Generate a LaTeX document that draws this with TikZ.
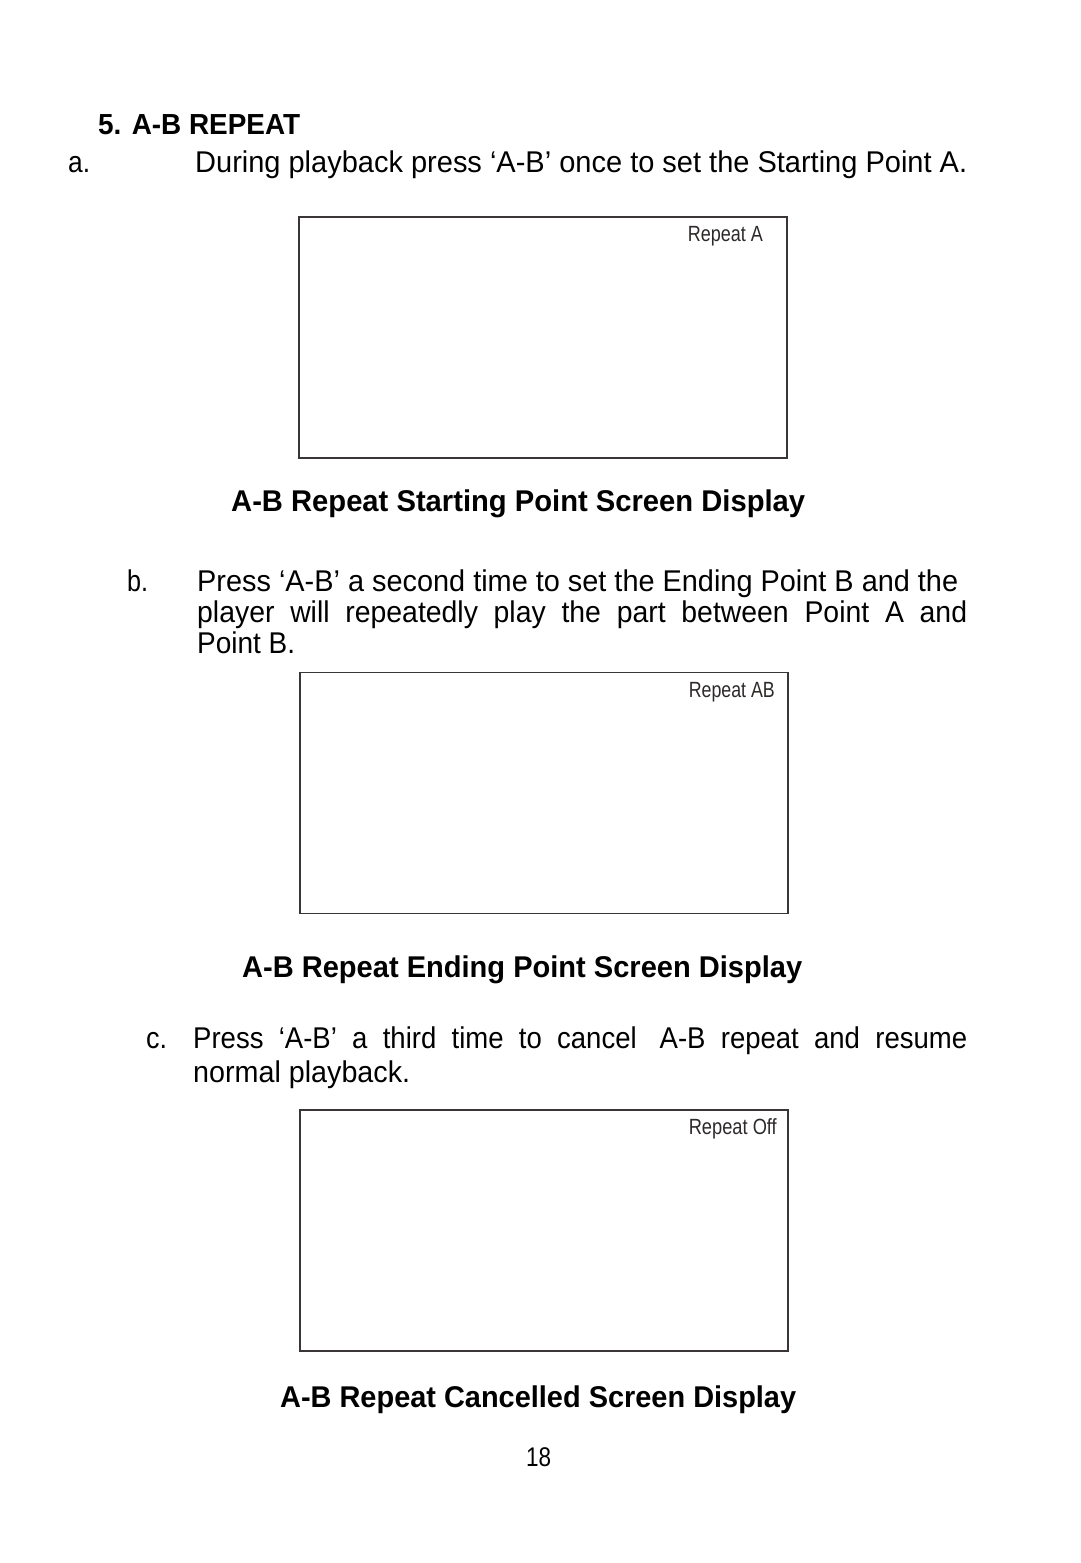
\documentclass[tikz,border=0pt]{standalone}
\usepackage{graphicx}
\usepackage{fontspec}
\setmainfont{Liberation Sans}
\newsavebox\fitbox
\newcommand\fitto[2]{\sbox\fitbox{#2}\pgfmathsetmacro\fitratio{(#1)/(\the\wd\fitbox)}\scalebox{\fitratio}[1]{\usebox\fitbox}}
\definecolor{framecol}{HTML}{3A3636}
\definecolor{labcol}{HTML}{2E2A2A}
\tikzset{
  body/.style={inner sep=0pt, anchor=base west, font=\fontsize{30}{34}\selectfont, text=black},
  bodyb/.style={inner sep=0pt, anchor=base west, font=\fontsize{29}{33}\selectfont\bfseries, text=black},
  caption/.style={inner sep=0pt, anchor=base west, font=\fontsize{30}{34}\selectfont\bfseries, text=black},
  screenlab/.style={inner sep=0pt, anchor=base east, font=\fontsize{22}{26}\selectfont, text=labcol},
  screen/.style={draw=framecol, line width=1.6pt, fill=white, minimum width=488pt, minimum height=241pt, inner sep=0pt},
  pagenum/.style={inner sep=0pt, anchor=base, font=\fontsize{27}{30}\selectfont, text=black}
}
\begin{document}
\begin{tikzpicture}[x=1pt,y=-1pt]
\fill[white] (0,0) rectangle (1080,1563);
\useasboundingbox (0,0) rectangle (1080,1563);

% heading
\node[bodyb] (head) at (98,134) {\fitto{202pt}{5. A-B REPEAT}};

% step a
\node[body] (amark) at (68,172) {\fitto{22pt}{a.}};
\node[body] (atext) at (195,172) {\fitto{772pt}{During playback press ‘A-B’ once to set the Starting Point A.}};

% screen 1
\node[screen] (scr1) at (543,337.5) {};
\node[screenlab] (lab1) at (763,241) {\fitto{75pt}{Repeat A}};
\node[caption] (cap1) at (231,511) {\fitto{574pt}{A-B Repeat Starting Point Screen Display}};

% step b
\node[body] (bmark) at (127,591) {\fitto{21pt}{b.}};
\node[body] (bl1) at (197,591) {\fitto{761pt}{Press ‘A-B’ a second time to set the Ending Point B and the}};
\node[body] (bl2) at (197,622) {\fitto{770pt}{player\ \ will\ \ repeatedly\ \ play\ \ the\ \ part\ \ between\ \ Point\ \ A\ \ and}};
\node[body] (bl3) at (197,653) {\fitto{98pt}{Point B.}};

% screen 2
\node[screen] (scr2) at (544,793) {};
\node[screenlab] (lab2) at (775,697) {\fitto{86pt}{Repeat AB}};
\node[caption] (cap2) at (242,977) {\fitto{560pt}{A-B Repeat Ending Point Screen Display}};

% step c
\node[body] (cmark) at (146,1048) {\fitto{21pt}{c.}};
\node[body] (cl1) at (193,1048) {\fitto{774pt}{Press\ \ ‘A-B’\ \ a\ \ third\ \ time\ \ to\ \ cancel\ \ \ A-B\ \ repeat\ \ and\ \ resume}};
\node[body] (cl2) at (193,1082) {\fitto{217pt}{normal playback.}};

% screen 3
\node[screen] (scr3) at (544,1230.5) {};
\node[screenlab] (lab3) at (777,1134) {\fitto{88pt}{Repeat Off}};
\node[caption] (cap3) at (280,1407) {\fitto{516pt}{A-B Repeat Cancelled Screen Display}};

% page number
\node[pagenum] (page) at (538.5,1466) {\fitto{25pt}{18}};
\end{tikzpicture}
\end{document}
